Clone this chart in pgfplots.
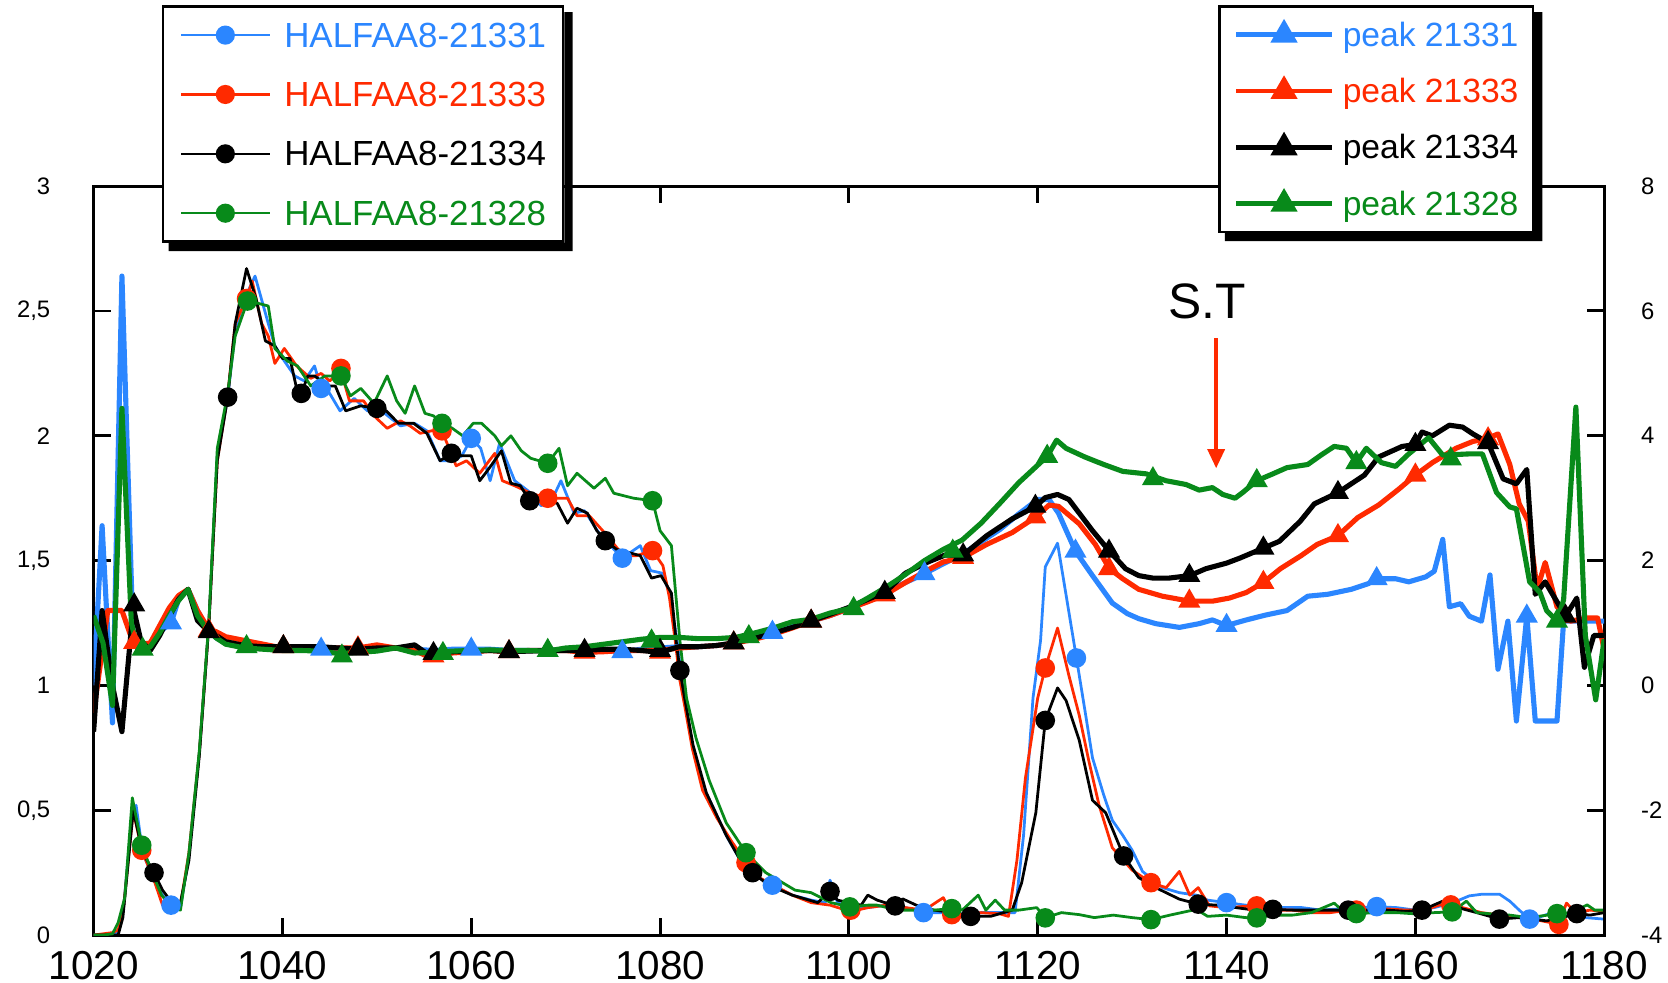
\documentclass[border=0pt]{standalone}
\usepackage{pgfplots}
\pgfplotsset{compat=1.18}
\usepackage{fontspec}
\setmainfont{Liberation Sans}
\usetikzlibrary{arrows.meta}
\definecolor{cblue}{RGB}{43,134,255}
\definecolor{cred}{RGB}{255,42,0}
\definecolor{cgreen}{RGB}{8,138,26}
\pgfplotsset{
  base/.style={
    scale only axis, width=355pt, height=176pt,
    xmin=1020, xmax=1180,
    tick align=inside, major tick length=4pt,
    axis line style={line width=0.7pt},
    every tick/.style={black, line width=0.7pt},
    /pgf/number format/assume math mode=true,
    /pgf/number format/use comma,
    /pgf/number format/1000 sep={},
  },
  thin/.style={line width=0.65pt, line join=round, forget plot},
  thick/.style={line width=1.2pt, line join=round, forget plot},
  circ/.style={only marks, mark=*, mark size=2.1pt, forget plot},
  tri/.style={only marks, mark=triangle*, mark size=2.6pt, forget plot},
}
\begin{document}
\begin{tikzpicture}
%================ left axis: HALFAA8 ================
\begin{axis}[base,
  ymin=0, ymax=3,
  ytick={0,0.5,1,1.5,2,2.5,3},
  xtick={1020,1040,...,1180},
  ytick pos=left,
  xticklabel style={font=\fontsize{9.5}{10}\selectfont, inner sep=0pt, yshift=-3.6pt},
  yticklabel style={font=\fontsize{5.6}{6}\selectfont, inner sep=0pt, xshift=-10pt},
  legend cell align=left,
  legend image code/.code={\draw[mark repeat=2,mark phase=2,#1] plot coordinates {(0pt,0pt) (10.4pt,0pt) (20.8pt,0pt)};},
  legend style={name=legL, at={(0.0451,1.2415)}, anchor=north west, draw=black, line width=0.6pt, fill=white,
    font=\fontsize{8.2}{9}\selectfont, inner xsep=4pt, inner ysep=3.6pt, row sep=7.75pt, column sep=3.2pt,
    nodes={inner sep=0pt, text height=5.9pt, text depth=0.3pt}},
]
\addlegendimage{cblue, line width=0.5pt, mark=*, mark size=2pt}
\addlegendentry{\textcolor{cblue}{HALFAA8-21331}}
\addlegendimage{cred, line width=0.5pt, mark=*, mark size=2pt}
\addlegendentry{\textcolor{cred}{HALFAA8-21333}}
\addlegendimage{black, line width=0.5pt, mark=*, mark size=2pt}
\addlegendentry{\textcolor{black}{HALFAA8-21334}}
\addlegendimage{cgreen, line width=0.5pt, mark=*, mark size=2pt}
\addlegendentry{\textcolor{cgreen}{HALFAA8-21328}}

% HALFAA8-21331 (blue)
\addplot[thin, cblue] coordinates {
(1020,0) (1021,0) (1022,0) (1022.6,0.01) (1023.2,0.12) (1024,0.45) (1024.5,0.52) (1025.2,0.33)
(1026.4,0.22) (1027.3,0.16) (1028.2,0.12) (1029.2,0.11) (1030.1,0.32) (1031.2,0.73) (1032.2,1.24)
(1033.1,1.92) (1034.2,2.15) (1035,2.42) (1036,2.55) (1037.1,2.64) (1038.5,2.45) (1039.2,2.36)
(1040.2,2.30) (1041.3,2.24) (1042.3,2.22) (1043.4,2.28) (1044.1,2.19) (1045,2.17) (1046.1,2.10)
(1047.6,2.15) (1049,2.10) (1050.5,2.10) (1052.5,2.04) (1054,2.05) (1055.3,2.02) (1056.7,1.90)
(1058,1.90) (1059,1.92) (1060,1.99) (1061,1.95) (1062,1.82) (1063,1.97) (1064.6,1.82) (1066,1.78)
(1067.4,1.72) (1068.5,1.74) (1069.5,1.82) (1070.9,1.69) (1072,1.70) (1073.7,1.60) (1075,1.55)
(1076,1.51) (1077.9,1.56) (1079,1.46) (1080.2,1.45) (1081,1.37) (1081.8,1.18) (1082.3,1.02)
(1082.8,0.90) (1083.5,0.74) (1084.5,0.60) (1085.5,0.52) (1087,0.40) (1088.5,0.30) (1090,0.24)
(1091.9,0.20) (1094,0.16) (1096,0.14) (1097.5,0.13) (1098,0.22) (1098.8,0.13) (1100,0.11)
(1102,0.11) (1104,0.12) (1106,0.11) (1107.9,0.09) (1110,0.09) (1112,0.085) (1114,0.09) (1116,0.09)
(1117.6,0.09) (1118.5,0.40) (1119.5,0.95) (1120.3,1.18) (1120.8,1.475) (1122.1,1.57) (1124.1,1.11)
(1125,0.90) (1125.8,0.71) (1127,0.56) (1127.9,0.46) (1129,0.40) (1130,0.34) (1131.1,0.255)
(1133.2,0.19) (1135,0.17) (1136.8,0.16) (1138,0.14) (1140,0.13) (1142,0.12) (1144,0.117)
(1146,0.11) (1148,0.11) (1150,0.10) (1152,0.105) (1154,0.11) (1155.9,0.114) (1158,0.11) (1160,0.10)
(1162,0.11) (1164,0.13) (1165.7,0.157) (1167.1,0.164) (1168.9,0.164) (1170,0.136) (1171,0.10)
(1172.1,0.064) (1173,0.07) (1174.5,0.09) (1176,0.08) (1178,0.07) (1180,0.064)
};
\addplot[circ, cblue] coordinates {
(1028.2,0.12) (1044.1,2.19) (1060,1.99) (1076,1.51) (1091.9,0.20) (1107.9,0.09)
(1124.1,1.11) (1140,0.13) (1155.9,0.114) (1172.1,0.064)
};
% HALFAA8-21333 (red)
\addplot[thin, cred] coordinates {
(1020,0) (1021,0.005) (1022,0.01) (1022.6,0.02) (1023.2,0.12) (1024.2,0.50) (1025.1,0.34)
(1026.4,0.22) (1027.3,0.12) (1028.2,0.11) (1029.2,0.12) (1030.1,0.33) (1031.2,0.73) (1032.2,1.24)
(1033.1,1.90) (1034.2,2.16) (1035,2.45) (1036.2,2.55) (1036.8,2.62) (1037.8,2.45) (1038.5,2.40)
(1039.2,2.29) (1040.2,2.35) (1041.5,2.28) (1043,2.23) (1044.1,2.25) (1045,2.22) (1046.2,2.26)
(1047.1,2.14) (1048.6,2.14) (1049.7,2.08) (1051.1,2.03) (1052.5,2.06) (1053.5,2.04) (1054.6,2.01)
(1055.8,2.02) (1056.9,2.02) (1058.4,1.88) (1059.5,1.90) (1060.9,1.85) (1062.5,1.93) (1063.3,1.82)
(1064.6,1.80) (1066.3,1.77) (1068.1,1.75) (1070.2,1.75) (1071.2,1.68) (1072.5,1.68) (1074.4,1.60)
(1076.1,1.52) (1077.5,1.52) (1079.2,1.54) (1080.3,1.48) (1081,1.35) (1081.6,1.18) (1082.1,1.02)
(1082.6,0.92) (1083.4,0.75) (1084.5,0.58) (1086,0.47) (1087.5,0.38) (1089.1,0.29) (1090.5,0.23)
(1092,0.20) (1094,0.16) (1096,0.13) (1098,0.12) (1100.2,0.094) (1102,0.11) (1104,0.12) (1106,0.11)
(1108,0.10) (1110,0.15) (1110.9,0.082) (1112,0.08) (1114,0.09) (1116,0.085) (1116.9,0.075)
(1117.8,0.30) (1118.7,0.63) (1120,0.95) (1120.8,1.07) (1122.1,1.23) (1123.3,1.04) (1124.4,0.88)
(1125.4,0.70) (1126.5,0.52) (1127.9,0.35) (1130,0.26) (1132,0.21) (1133.6,0.19) (1135,0.255)
(1136.1,0.16) (1137,0.19) (1138.2,0.117) (1140,0.11) (1142,0.115) (1143.2,0.117) (1145,0.10)
(1147,0.10) (1149,0.09) (1151,0.09) (1153,0.10) (1155,0.10) (1157,0.105) (1159,0.10) (1161,0.10)
(1162.5,0.12) (1163.75,0.121) (1165,0.11) (1167,0.09) (1169,0.08) (1171,0.07) (1173,0.06)
(1175.2,0.043) (1176,0.128) (1177,0.09) (1178.5,0.10) (1180,0.095)
};
\addplot[circ, cred] coordinates {
(1025.1,0.34) (1036.2,2.55) (1046.2,2.27) (1056.9,2.02) (1068.1,1.75) (1079.2,1.54) (1089.1,0.29)
(1100.2,0.10) (1110.9,0.082) (1120.8,1.07) (1132,0.21) (1143.2,0.117) (1153.75,0.10)
(1163.75,0.121) (1175.2,0.043)
};
% HALFAA8-21334 (black)
\addplot[thin, black] coordinates {
(1020,0) (1021,0) (1022,0) (1022.6,0) (1023.1,0.07) (1024.2,0.50) (1025.2,0.33) (1026.4,0.25)
(1027.3,0.18) (1028.3,0.13) (1029.2,0.13) (1030.1,0.30) (1031.2,0.72) (1032.2,1.24) (1033.1,1.90)
(1034.2,2.155) (1035,2.45) (1036.2,2.67) (1037.2,2.55) (1038.2,2.38) (1039.2,2.36) (1040,2.31)
(1040.8,2.31) (1041.5,2.19) (1042,2.17) (1042.7,2.24) (1043.4,2.24) (1044.8,2.20) (1045.6,2.20)
(1046.7,2.10) (1048.3,2.12) (1050,2.11) (1051,2.10) (1052.3,2.05) (1053.9,2.05) (1055.3,2.01)
(1056.7,1.90) (1057.9,1.93) (1059,1.92) (1060,1.92) (1060.9,1.82) (1061.9,1.87) (1063.2,1.94)
(1064.2,1.81) (1065.2,1.80) (1066.2,1.74) (1067.5,1.74) (1069.1,1.73) (1070.2,1.65) (1071.2,1.71)
(1072.3,1.69) (1073.3,1.62) (1074.2,1.58) (1075.4,1.545) (1077.9,1.52) (1079.1,1.43) (1080.1,1.44)
(1081.2,1.37) (1081.7,1.18) (1082.1,1.06) (1082.6,0.95) (1083.5,0.76) (1084.9,0.57) (1087,0.40)
(1088.5,0.30) (1089.8,0.25) (1091.5,0.20) (1094,0.16) (1096.7,0.13) (1098,0.175) (1098.8,0.14)
(1100,0.13) (1101.3,0.12) (1102,0.16) (1103,0.14) (1104.9,0.117) (1105.7,0.145) (1107.3,0.117)
(1109,0.10) (1111,0.09) (1112.9,0.075) (1115,0.075) (1117.3,0.10) (1118.3,0.21) (1119.8,0.49)
(1120.8,0.86) (1122.1,0.99) (1123,0.94) (1124.4,0.78) (1125.8,0.54) (1127.2,0.49) (1129.1,0.317)
(1130.7,0.23) (1132.5,0.19) (1135,0.144) (1137,0.124) (1139,0.12) (1141,0.11) (1143,0.10)
(1144.9,0.103) (1147,0.10) (1149,0.10) (1151,0.10) (1152.9,0.10) (1155,0.10) (1157,0.10)
(1159,0.095) (1160.7,0.10) (1162.9,0.136) (1164.5,0.11) (1166.5,0.09) (1168.9,0.064) (1171,0.07)
(1173.9,0.057) (1175.5,0.07) (1177.1,0.086) (1178.5,0.08) (1180,0.09)
};
\addplot[circ, black] coordinates {
(1026.4,0.25) (1034.2,2.155) (1042,2.17) (1050,2.11) (1057.9,1.93) (1066.2,1.74) (1074.2,1.58)
(1082.1,1.06) (1089.8,0.25) (1098,0.175) (1104.9,0.117) (1112.9,0.075) (1120.8,0.86) (1129.1,0.317)
(1137,0.124) (1144.9,0.103) (1152.9,0.10) (1160.7,0.10) (1168.9,0.064) (1177.1,0.086)
};
% HALFAA8-21328 (green)
\addplot[thin, cgreen] coordinates {
(1020,0) (1021,0) (1022,0.005) (1022.6,0.05) (1023.3,0.15) (1024.1,0.55) (1025.1,0.36) (1026.3,0.24)
(1027.2,0.16) (1028.3,0.11) (1029.2,0.10) (1030.1,0.33) (1031.2,0.74) (1032.2,1.25) (1033.1,1.95)
(1034.2,2.17) (1035,2.40) (1036.3,2.54) (1037.5,2.53) (1038.5,2.52) (1039.2,2.35) (1040.5,2.30)
(1041.6,2.28) (1043,2.20) (1044.5,2.24) (1046.2,2.24) (1047.2,2.16) (1048.3,2.19) (1049.7,2.13)
(1051.1,2.24) (1052.1,2.14) (1053,2.09) (1054,2.20) (1055.1,2.09) (1056,2.08) (1056.9,2.05)
(1058,2.03) (1059.1,2.00) (1060.2,2.05) (1061.1,2.05) (1062.5,2.00) (1063.2,1.96) (1064.2,2.00)
(1065.3,1.94) (1066.3,1.91) (1068.1,1.89) (1069.3,1.95) (1070.2,1.80) (1071.2,1.85) (1073,1.79)
(1074.2,1.83) (1075.1,1.77) (1077.2,1.75) (1079.2,1.74) (1080,1.62) (1081.2,1.56) (1082.1,1.18)
(1082.8,0.95) (1083.8,0.79) (1085.2,0.62) (1087,0.45) (1089.1,0.33) (1091.2,0.25) (1094.3,0.18)
(1096,0.17) (1098.1,0.13) (1100.1,0.113) (1102,0.12) (1103,0.12) (1105.1,0.10) (1107,0.10)
(1109,0.10) (1110.9,0.106) (1112,0.10) (1113.7,0.16) (1114.5,0.10) (1115.5,0.14) (1116.5,0.10)
(1118,0.10) (1119.9,0.11) (1120.8,0.069) (1122.5,0.09) (1124.4,0.082) (1126,0.07) (1128,0.08)
(1130,0.07) (1132,0.062) (1134,0.08) (1136.8,0.103) (1138,0.075) (1140,0.08) (1142,0.07)
(1143.2,0.069) (1145,0.08) (1147,0.08) (1149,0.09) (1151.4,0.128) (1152.5,0.09) (1153.75,0.086)
(1156,0.09) (1158,0.09) (1160,0.085) (1162,0.09) (1163.9,0.093) (1165.4,0.136) (1166.5,0.09)
(1168,0.085) (1170,0.08) (1172,0.07) (1174,0.08) (1175,0.086) (1176.5,0.09) (1178.2,0.121)
(1179,0.10) (1180,0.10)
};
\addplot[circ, cgreen] coordinates {
(1025.1,0.36) (1036.3,2.54) (1046.2,2.24) (1056.9,2.05) (1068.1,1.89) (1079.2,1.74) (1089.1,0.33)
(1100.1,0.113) (1110.9,0.106) (1120.8,0.069) (1132,0.062) (1143.2,0.069) (1153.75,0.086)
(1163.9,0.093) (1175,0.086)
};
% annotation
\node[font=\fontsize{11.7}{12}\selectfont, inner sep=0pt] at (axis cs:1137.9,2.54) {S.T};
\draw[cred, line width=0.8pt, -{Triangle[width=4pt,length=4.5pt]}] (axis cs:1138.9,2.39) -- (axis cs:1138.9,1.87);
\end{axis}

%================ right axis: peaks ================
\begin{axis}[base,
  ymin=-4, ymax=8,
  ytick={-4,-2,0,2,4,6,8},
  axis x line=none, axis y line*=right,
  yticklabel style={font=\fontsize{5.6}{6}\selectfont, inner sep=0pt, xshift=8.5pt},
  legend cell align=left,
  legend image code/.code={\draw[mark repeat=2,mark phase=2,#1] plot coordinates {(0pt,0pt) (11.25pt,0pt) (22.5pt,0pt)};},
  legend style={name=legR, at={(0.7444,1.2415)}, anchor=north west, draw=black, line width=0.6pt, fill=white,
    font=\fontsize{7.9}{9}\selectfont, inner xsep=3.4pt, inner ysep=3.6pt, row sep=7.25pt, column sep=2.0pt,
    nodes={inner sep=0pt, text height=5.7pt, text depth=0.3pt}},
]
\addlegendimage{cblue, line width=1.1pt, mark=triangle*, mark size=2.6pt}
\addlegendentry{\textcolor{cblue}{peak 21331}\hspace{3.2pt}}
\addlegendimage{cred, line width=1.1pt, mark=triangle*, mark size=2.6pt}
\addlegendentry{\textcolor{cred}{peak 21333}\hspace{3.2pt}}
\addlegendimage{black, line width=1.1pt, mark=triangle*, mark size=2.6pt}
\addlegendentry{\textcolor{black}{peak 21334}\hspace{3.2pt}}
\addlegendimage{cgreen, line width=1.1pt, mark=triangle*, mark size=2.6pt}
\addlegendentry{\textcolor{cgreen}{peak 21328}\hspace{3.2pt}}

% peak 21331 (blue)
\addplot[thick, cblue] coordinates {
(1020,0) (1020.9,2.56) (1022,-0.6) (1023,6.56) (1024.2,0.68) (1025,0.58) (1026,0.66) (1027,0.86)
(1028.2,1.0) (1029,1.38) (1030,1.54) (1031,1.2) (1032,0.92) (1033,0.76) (1034,0.68) (1036,0.62)
(1038,0.6) (1040,0.58) (1042,0.6) (1044.1,0.58) (1046,0.6) (1048,0.58) (1050,0.58) (1052,0.6)
(1054,0.58) (1056,0.56) (1058,0.58) (1060,0.58) (1062,0.58) (1064,0.56) (1066,0.56) (1068,0.56)
(1070,0.58) (1072,0.56) (1074,0.56) (1076,0.54) (1078,0.58) (1080,0.6) (1082,0.62) (1084,0.62)
(1086,0.64) (1088,0.68) (1090,0.76) (1091.9,0.85) (1094,0.94) (1096,1.03) (1098,1.12) (1100,1.23)
(1102,1.35) (1104,1.5) (1106,1.65) (1108,1.79) (1110,1.95) (1112,2.1) (1114,2.3) (1116,2.5)
(1118,2.75) (1120,2.98) (1121.2,2.98) (1122.2,2.76) (1124,2.15) (1125.8,1.76) (1127.9,1.32)
(1129.5,1.15) (1130.7,1.07) (1132.5,0.99) (1135,0.93) (1137.1,0.99) (1138.5,1.05) (1140,0.96)
(1142.1,1.05) (1144.2,1.13) (1146.4,1.2) (1148.6,1.43) (1150.7,1.46) (1153.2,1.54) (1155,1.63)
(1155.9,1.71) (1157.9,1.71) (1159.3,1.66) (1161.1,1.74) (1162,1.83) (1162.9,2.34) (1163.6,1.26)
(1164.8,1.31) (1165.7,1.11) (1167,1.03) (1167.9,1.77) (1168.75,0.26) (1169.8,1.03) (1170.7,-0.57)
(1171.8,1.11) (1172.7,-0.57) (1175,-0.57) (1175.7,1.03) (1180,1.03)
};
\addplot[tri, cblue] coordinates {
(1028.2,1.0) (1044.1,0.58) (1060,0.58) (1076,0.54) (1091.9,0.85) (1108,1.79) (1124,2.15)
(1140,0.96) (1155.9,1.71) (1171.8,1.11)
};
% peak 21333 (red)
\addplot[thick, cred] coordinates {
(1020,-0.44) (1021.5,1.2) (1023,1.2) (1024.2,0.68) (1025,0.66) (1026,0.68) (1027,0.96) (1028,1.24)
(1029,1.44) (1030,1.54) (1031,1.2) (1032.2,0.9) (1033,0.86) (1034,0.78) (1036,0.72) (1038,0.66)
(1040,0.6) (1042,0.6) (1044,0.6) (1046,0.6) (1048,0.6) (1050,0.65) (1052,0.6) (1054,0.56)
(1055.3,0.47) (1056,0.47) (1058,0.52) (1060,0.54) (1062,0.56) (1064,0.54) (1066,0.56) (1068,0.56)
(1070,0.56) (1072,0.53) (1074,0.54) (1076,0.56) (1078,0.56) (1080,0.56) (1082,0.6) (1084,0.62)
(1086,0.64) (1088,0.68) (1090,0.74) (1092,0.82) (1094,0.92) (1096,1.03) (1098,1.12) (1100,1.23)
(1102,1.34) (1103.8,1.45) (1106,1.65) (1108,1.82) (1110,1.98) (1112.1,2.05) (1114.6,2.26)
(1117.3,2.45) (1119.8,2.70) (1121.2,2.89) (1122.2,2.87) (1124.4,2.59) (1126.1,2.26) (1127.6,1.87)
(1129,1.71) (1130.7,1.54) (1133.2,1.43) (1136.1,1.35) (1138.5,1.35) (1140.3,1.40) (1142.1,1.49)
(1143.9,1.65) (1145.7,1.87) (1147.9,2.08) (1149.6,2.26) (1151.8,2.40) (1153.9,2.69) (1156.1,2.89)
(1158.2,3.14) (1160,3.37) (1161.8,3.57) (1164.3,3.80) (1166.1,3.91) (1167.5,3.95) (1168.75,4.03)
(1170,3.54) (1171,2.91) (1171.96,2.63) (1172.9,1.54) (1173.75,1.97) (1175,1.26) (1176.4,1.03)
(1178.2,1.08) (1179.3,1.08) (1180,0.57)
};
\addplot[tri, cred] coordinates {
(1024.3,0.69) (1032.2,0.88) (1040.1,0.62) (1048,0.6) (1056,0.47) (1064,0.54) (1072,0.53) (1080,0.53)
(1087.8,0.68) (1096,1.03) (1103.8,1.45) (1112.1,2.05) (1119.75,2.70) (1127.55,1.87) (1136.06,1.35)
(1143.9,1.65) (1151.8,2.40) (1160,3.37) (1167.7,3.95) (1175.9,1.1)
};
% peak 21334 (black)
\addplot[thick, black] coordinates {
(1020,-0.74) (1020.9,1.2) (1022,0.0) (1023,-0.74) (1024.2,1.25) (1025,0.72) (1026,0.56) (1027,0.8)
(1028,1.1) (1029,1.38) (1030,1.54) (1031,1.04) (1032.2,0.86) (1033,0.8) (1034,0.7) (1036,0.64)
(1038,0.62) (1040.1,0.62) (1042,0.62) (1044,0.62) (1046,0.6) (1048,0.58) (1050,0.6) (1052,0.6)
(1054,0.65) (1055.3,0.51) (1056,0.51) (1058,0.54) (1060,0.55) (1062,0.56) (1064,0.54) (1066,0.55)
(1068,0.56) (1070,0.56) (1072,0.56) (1074,0.58) (1076,0.58) (1078,0.56) (1080,0.53) (1082,0.62)
(1084,0.62) (1086,0.64) (1087.8,0.68) (1090,0.76) (1092,0.84) (1094,0.93) (1096,1.03) (1098,1.14)
(1100,1.25) (1102,1.38) (1103.8,1.49) (1106,1.8) (1108.4,1.98) (1110.2,2.09) (1112.1,2.09)
(1114.6,2.40) (1117.3,2.67) (1119.8,2.87) (1120.8,3.01) (1122.1,3.06) (1123.3,2.98) (1124.4,2.76)
(1125.8,2.48) (1127.6,2.15) (1129.3,1.87) (1130.7,1.76) (1132.2,1.72) (1133.9,1.72) (1136.1,1.76)
(1137.8,1.87) (1140,1.96) (1141.4,2.04) (1143.9,2.20) (1145.6,2.31) (1147.8,2.63) (1149.3,2.91)
(1151.8,3.09) (1154.6,3.37) (1156.1,3.66) (1158.6,3.83) (1160,3.86) (1160.7,4.06) (1161.8,4.0)
(1163.6,4.17) (1165,4.14) (1166.1,4.03) (1167.7,3.89) (1169.3,3.31) (1170.7,3.23) (1171.8,3.46)
(1172.7,1.46) (1173.75,1.66) (1175.9,1.11) (1177.1,1.4) (1177.9,0.29) (1178.9,0.80) (1180,0.8)
};
\addplot[tri, black] coordinates {
(1024.3,1.29) (1032.2,0.86) (1040.1,0.62) (1048,0.58) (1056,0.51) (1064,0.54) (1072,0.56) (1080,0.56)
(1087.8,0.68) (1096,1.03) (1103.8,1.49) (1112.1,2.09) (1119.75,2.87) (1127.55,2.15) (1136.06,1.76)
(1143.9,2.20) (1151.8,3.09) (1160,3.86) (1167.7,3.89) (1175.9,1.11)
};
% peak 21328 (green)
\addplot[thick, cgreen] coordinates {
(1020,1.12) (1021,0.68) (1022,-0.32) (1023,4.44) (1024,1.0) (1024.7,0.56) (1026,0.62) (1027,0.84)
(1028,1.12) (1029,1.36) (1030,1.54) (1031,1.12) (1032,0.9) (1033,0.76) (1034,0.66) (1036,0.6)
(1038,0.58) (1040,0.56) (1042,0.56) (1044,0.55) (1046,0.51) (1048,0.53) (1050,0.55) (1052,0.6)
(1054,0.52) (1056,0.53) (1058,0.55) (1060,0.56) (1062,0.57) (1064,0.56) (1066,0.56) (1068,0.55)
(1070,0.6) (1072,0.62) (1074,0.66) (1076,0.7) (1078,0.74) (1080,0.77) (1082,0.77) (1084,0.75)
(1086,0.75) (1088,0.77) (1090,0.84) (1092,0.92) (1094,1.02) (1096,1.06) (1098,1.16) (1100,1.23)
(1102,1.4) (1104,1.58) (1106,1.78) (1108,2.0) (1110,2.18) (1112,2.33) (1114,2.6) (1116,2.92)
(1118,3.25) (1121,3.67) (1122,3.93) (1123,3.80) (1125,3.66) (1127,3.54) (1129,3.43) (1131.5,3.39)
(1133.6,3.28) (1135.7,3.22) (1137.1,3.13) (1138.5,3.17) (1139.6,3.06) (1140.9,3.0) (1141.7,3.09)
(1143.2,3.28) (1144.9,3.39) (1146.4,3.49) (1148.6,3.54) (1150,3.69) (1151.4,3.83) (1152.7,3.80)
(1153.75,3.57) (1154.8,3.80) (1156.4,3.57) (1157.9,3.51) (1159.3,3.71) (1161.4,3.97) (1162.9,3.69)
(1165.7,3.71) (1167.1,3.71) (1168.6,3.09) (1170,2.86) (1170.7,2.83) (1172.1,1.66) (1173.2,1.49)
(1173.9,1.2) (1175,1.03) (1175.7,1.37) (1177,4.46) (1178,0.8) (1179.1,-0.23) (1180,0.74)
};
\addplot[tri, cgreen] coordinates {
(1025.2,0.58) (1036.2,0.62) (1046.3,0.47) (1057,0.51) (1068.1,0.56) (1079.1,0.71) (1089.4,0.78)
(1100.5,1.23) (1111,2.15) (1121,3.67) (1132.2,3.31) (1143.2,3.28) (1153.75,3.57) (1163.75,3.63)
(1175,1.03)
};
\coordinate (bbsw) at (rel axis cs:-0.06197,-0.06392);
\coordinate (bbne) at (rel axis cs:1.04225,1.24858);
\end{axis}
% legend shadows
\foreach \L in {legL,legR} {
  \fill[black] ([yshift=-1.6pt]\L.north east) -- ([shift={(1.9pt,-1.6pt)}]\L.north east)
    -- ([shift={(1.9pt,-1.9pt)}]\L.south east) -- ([shift={(1.6pt,-1.9pt)}]\L.south west)
    -- ([xshift=1.6pt]\L.south west) -- (\L.south east) -- cycle;
}
\pgfresetboundingbox
\useasboundingbox (bbsw) rectangle (bbne);
\end{tikzpicture}
\end{document}
